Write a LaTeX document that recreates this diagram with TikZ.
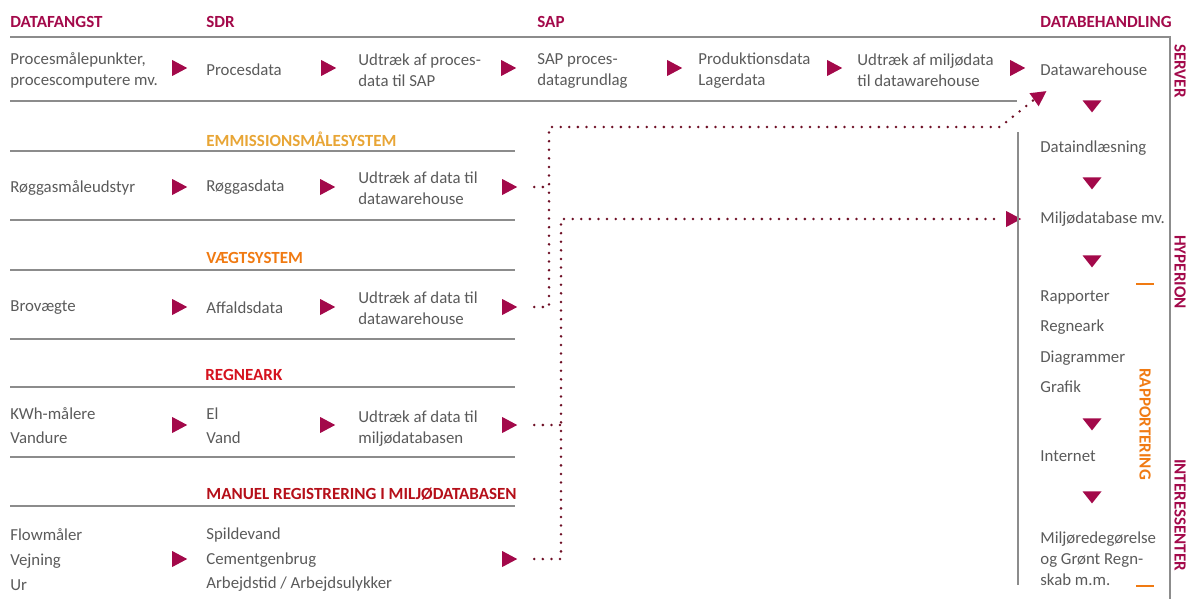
\documentclass[tikz,border=0pt]{standalone}
\usepackage{fontspec}
\setmainfont{Carlito}
\usetikzlibrary{shapes.geometric}
\definecolor{crimson}{HTML}{A3094A}
\definecolor{dotred}{HTML}{6E0F25}
\definecolor{txtgray}{HTML}{5A5A5A}
\definecolor{rulegray}{HTML}{8C8C8C}
\definecolor{ochre}{HTML}{E8A535}
\definecolor{vorange}{HTML}{F07A12}
\definecolor{signalred}{HTML}{D5121E}

\begin{document}
\begin{tikzpicture}[x=0.5pt, y=-0.5pt,
		txt/.style={anchor=west, inner sep=0pt, yshift=-0.8pt, text=txtgray, align=left, font=\fontsize{8.4}{10.5}\selectfont},
		list/.style={txt, font=\fontsize{8.4}{12.3}\selectfont},
		head/.style={anchor=west, inner sep=0pt, font=\fontsize{8.5}{10}\selectfont\bfseries},
		side/.style={head, anchor=center, rotate=-90},
		rtri/.style={isosceles triangle, isosceles triangle stretches, fill=crimson, inner sep=0pt, minimum height=7.5pt, minimum width=8pt},
		dtri/.style={rtri, rotate=-90, minimum height=6pt, minimum width=9.5pt},
		rule/.style={draw=rulegray, line width=0.75pt},
		dots/.style={draw=dotred, line width=1.4pt, line cap=round, dash pattern=on 0pt off 4.3pt}]

		\useasboundingbox (0,0) rectangle (1187,599);

		\node[head, text=crimson] (datafangst) at (10,22) {DATAFANGST};
		\node[head, text=crimson] (sdr) at (206,22) {SDR};
		\node[head, text=crimson] (sap) at (537,22) {SAP};
		\node[head, text=crimson, anchor=east] (databeh) at (1172,22) {DATABEHANDLING};
		\draw[rule] (10,37) -- (1170,37) -- (1170,599);

		\node[txt] (pmp) at (10,69) {Procesmålepunkter,\\procescomputere mv.};
		\node[rtri] (p1) at (177,68) {};
		\node[txt] (pdata) at (206,68) {Procesdata};
		\node[rtri] (p2) at (326,68) {};
		\node[txt] (pudtr) at (358,69) {Udtræk af proces-\\data til SAP};
		\node[rtri] (p3) at (506,68) {};
		\node[txt] (sapgr) at (537,69) {SAP proces-\\datagrundlag};
		\node[rtri] (p4) at (672,68) {};
		\node[txt] (prod) at (698,69) {Produktionsdata\\Lagerdata};
		\node[rtri] (p5) at (832,68) {};
		\node[txt] (mudtr) at (857,69) {Udtræk af miljødata\\til datawarehouse};
		\node[rtri] (p6) at (1015,68) {};
		\draw[rule] (10,101) -- (1017,101);

		\node[head, text=ochre] (emhead) at (206,139) {EMMISSIONSMÅLESYSTEM};
		\draw[rule] (10,151) -- (515,151);
		\node[txt] (rgudst) at (10,186) {Røggasmåleudstyr};
		\node[rtri] (e1) at (177,187) {};
		\node[txt] (rgdata) at (206,186) {Røggasdata};
		\node[rtri] (e2) at (325,187) {};
		\node[txt] (eudtr) at (358,187) {Udtræk af data til\\datawarehouse};
		\node[rtri] (e3) at (507,187) {};
		\draw[rule] (10,220) -- (515,220);

		\node[head, text=vorange] (vghead) at (206,258) {VÆGTSYSTEM};
		\draw[rule] (10,270) -- (515,270);
		\node[txt] (brov) at (10,306) {Brovægte};
		\node[rtri] (v1) at (177,307) {};
		\node[txt] (affd) at (206,306) {Affaldsdata};
		\node[rtri] (v2) at (325,307) {};
		\node[txt] (vudtr) at (358,307) {Udtræk af data til\\datawarehouse};
		\node[rtri] (v3) at (507,307) {};
		\draw[rule] (10,339) -- (515,339);

		\node[head, text=signalred] (rghead) at (205,375) {REGNEARK};
		\draw[rule] (10,387) -- (515,387);
		\node[list] (kwh) at (10,424) {KWh-målere\\Vandure};
		\node[rtri] (r1) at (177,425) {};
		\node[list] (elv) at (206,424) {El\\Vand};
		\node[rtri] (r2) at (325,425) {};
		\node[txt] (rudtr) at (358,427) {Udtræk af data til\\miljødatabasen};
		\node[rtri] (r3) at (507,425) {};
		\draw[rule] (10,457) -- (515,457);

		\node[head, text=signalred!85!black] (mahead) at (206,494) {MANUEL REGISTRERING I MILJØDATABASEN};
		\draw[rule] (10,506) -- (515,506);
		\node[list] (flow) at (10,558) {Flowmåler\\Vejning\\Ur};
		\node[rtri] (m1) at (177,559) {};
		\node[list] (spild) at (206,558) {Spildevand\\Cementgenbrug\\Arbejdstid / Arbejdsulykker};
		\node[rtri] (m3) at (507,559) {};

		\node[txt] (dw) at (1040,68) {Datawarehouse};
		\node[rtri, rotate=35] (dwin) at (1038,97) {};
		\node[dtri] (d1) at (1092,105) {};
		\node[txt] (dind) at (1040,147) {Dataindlæsning};
		\node[dtri] (d2) at (1092,182) {};
		\node[rtri] (mdbin) at (1011,219) {};
		\node[txt] (mdb) at (1040,218) {Miljødatabase mv.};
		\node[dtri] (d3) at (1092,260) {};
		\node[txt, font=\fontsize{8.4}{15.3}\selectfont] (rapp) at (1040,340) {Rapporter\\Regneark\\Diagrammer\\Grafik};
		\node[dtri] (d4) at (1092,423) {};
		\node[txt] (inet) at (1040,455) {Internet};
		\node[dtri] (d5) at (1092,496) {};
		\node[txt] (mred) at (1040,557) {Miljøredegørelse\\og Grønt Regn-\\skab m.m.};
		\draw[rule] (1018,132) -- (1018,585);

		\draw[vorange, line width=0.8pt] (1136,284) -- (1154,284);
		\draw[vorange, line width=0.8pt] (1136,586) -- (1154,586);
		\node[side, text=crimson] (server) at (1180,71) {SERVER};
		\node[side, text=crimson] (hyperion) at (1180,272) {HYPERION};
		\node[side, text=crimson] (interess) at (1180,515) {INTERESSENTER};
		\node[side, text=vorange] (rapport) at (1145,424) {RAPPORTERING};

		\coordinate (busA) at (549,127);
		\coordinate (busB) at (561,219);
		\coordinate (kink) at (1000,127);
		\draw[dots, shorten <=8pt] (v3.east) -| (busA) -- (kink) -- (dwin.west);
		\draw[dots, shorten <=8pt] (e3.east) -- (e3.east -| busA);
		\draw[dots, shorten <=8pt, shorten >=2pt] (m3.east) -| (busB) -- (mdbin.west);
		\draw[dots, shorten <=8pt] (r3.east) -- (r3.east -| busB);

	\end{tikzpicture}
\end{document}
